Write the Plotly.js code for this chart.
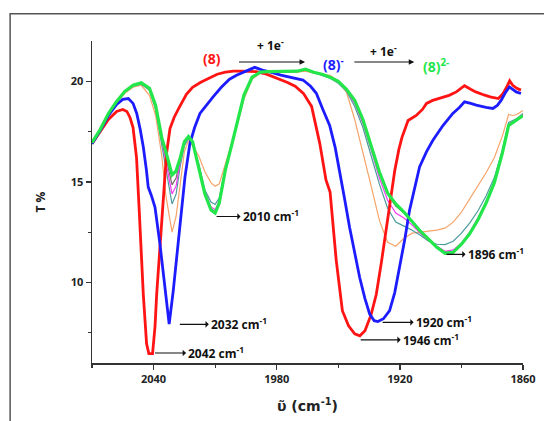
<!DOCTYPE html>
<html><head><meta charset="utf-8">
<script src="https://cdn.plot.ly/plotly-3.0.1.min.js"></script>
<style>html,body{margin:0;padding:0;background:#fff;}#chart{width:544px;height:421px;}</style>
</head><body><div id="chart"></div>
<script>
// wavenumber grid shared by the (8)2- titration family
const wnFamily = [2070, 2066, 2062, 2058, 2054, 2050, 2046, 2042, 2039, 2036, 2034, 2031, 2029, 2027, 2025, 2023, 2021, 2018, 2015, 2012, 2010, 2008, 2005, 2002, 1999, 1996, 1992, 1988, 1984, 1980, 1975, 1970, 1966, 1962, 1958, 1954, 1950, 1946, 1942, 1938, 1934, 1930, 1926, 1922, 1918, 1914, 1910, 1906, 1902, 1898, 1894, 1890, 1886, 1882, 1878, 1874, 1870, 1867, 1865, 1863, 1860];
const tGreen = [16.95, 17.6, 18.4, 19.0, 19.5, 19.8, 19.92, 19.65, 18.8, 17.2, 16.5, 15.35, 15.55, 16.2, 17.0, 17.25, 17.0, 15.75, 14.4, 13.6, 13.45, 13.95, 15.6, 16.8, 18.0, 19.3, 20.2, 20.45, 20.48, 20.48, 20.5, 20.5, 20.6, 20.45, 20.35, 20.2, 20.0, 19.6, 19.05, 18.1, 16.8, 15.5, 14.45, 13.9, 13.5, 13.0, 12.55, 12.15, 11.75, 11.45, 11.5, 11.9, 12.42, 13.1, 13.95, 14.95, 16.45, 17.8, 17.95, 18.05, 18.3];
const tOrange = [16.95, 17.55, 18.3, 18.9, 19.4, 19.7, 19.8, 19.3, 18.3, 16.3, 14.3, 12.5, 13.3, 15.0, 16.5, 17.05, 16.8, 16.3, 15.5, 14.95, 14.78, 14.9, 15.9, 17.0, 17.9, 19.1, 20.1, 20.4, 20.45, 20.45, 20.45, 20.45, 20.5, 20.4, 20.35, 20.3, 20.0, 19.45, 18.1, 16.5, 14.8, 13.1, 12.0, 11.8, 12.2, 12.45, 12.5, 12.55, 12.6, 12.7, 13.0, 13.5, 14.15, 14.8, 15.45, 16.2, 17.3, 18.35, 18.3, 18.35, 18.55];
const tTeal = [16.95, 17.6, 18.35, 18.95, 19.45, 19.75, 19.85, 19.55, 18.6, 16.9, 15.8, 13.9, 14.4, 15.8, 16.8, 17.15, 16.9, 15.9, 14.6, 14.0, 13.88, 14.2, 15.7, 16.9, 17.95, 19.25, 20.15, 20.45, 20.47, 20.47, 20.48, 20.48, 20.57, 20.42, 20.3, 20.15, 19.9, 19.5, 18.75, 17.7, 16.3, 14.9, 13.7, 13.0, 12.8, 12.6, 12.35, 12.05, 11.9, 11.88, 12.05, 12.45, 12.95, 13.55, 14.3, 15.2, 16.6, 17.95, 18.05, 18.15, 18.4];
const tMagenta = [16.95, 17.6, 18.38, 18.98, 19.48, 19.78, 19.9, 19.6, 18.7, 17.0, 16.0, 14.4, 14.8, 16.0, 16.9, 17.2, 16.95, 15.8, 14.5, 13.75, 13.62, 14.05, 15.65, 16.85, 17.98, 19.28, 20.18, 20.45, 20.48, 20.48, 20.5, 20.5, 20.58, 20.44, 20.33, 20.18, 19.95, 19.55, 18.9, 17.9, 16.6, 15.2, 14.1, 13.45, 13.2, 12.85, 12.45, 12.1, 11.8, 11.55, 11.62, 11.95, 12.5, 13.2, 14.0, 15.0, 16.5, 17.85, 18.0, 18.1, 18.35];
const tGray = [16.95, 17.6, 18.4, 19.0, 19.5, 19.8, 19.92, 19.63, 18.75, 17.1, 16.25, 14.85, 15.2, 16.2, 16.95, 17.22, 16.98, 15.78, 14.45, 13.65, 13.52, 13.98, 15.62, 16.82, 18.0, 19.3, 20.2, 20.45, 20.48, 20.48, 20.5, 20.5, 20.6, 20.45, 20.35, 20.2, 19.98, 19.58, 18.98, 18.02, 16.8, 15.45, 14.4, 13.8, 13.45, 12.95, 12.5, 12.1, 11.78, 11.5, 11.55, 11.9, 12.45, 13.15, 13.95, 14.95, 16.45, 17.82, 17.97, 18.07, 18.32];

// (8) neutral
const wnRed = [2070, 2066, 2062, 2058, 2055, 2053, 2051.5, 2050, 2048.3, 2047, 2045, 2043.4, 2042.3, 2040.5, 2039.3, 2038.5, 2036.9, 2035.3, 2033.7, 2032, 2030, 2028, 2024, 2021, 2017, 2013, 2009, 2005, 2001, 1997, 1990, 1985, 1980, 1975, 1971, 1967, 1963, 1961, 1959, 1956, 1954, 1951, 1948, 1945, 1942, 1939.5, 1937, 1934, 1931.5, 1929, 1926.5, 1924.5, 1922.5, 1920.5, 1919, 1916, 1912, 1909, 1907, 1904, 1901, 1896, 1892.5, 1888.5, 1885.5, 1883, 1879, 1876, 1872, 1870, 1868, 1866.5, 1865, 1863, 1861];
const tRed = [16.9, 17.5, 18.1, 18.5, 18.6, 18.5, 18.2, 17.7, 16.2, 13.6, 9.4, 6.95, 6.47, 6.47, 7.8, 9.4, 11.75, 14.1, 16.4, 17.65, 18.2, 18.6, 19.35, 19.7, 19.95, 20.15, 20.35, 20.45, 20.5, 20.5, 20.48, 20.35, 20.15, 19.95, 19.75, 19.4, 18.75, 17.9, 16.9, 15.1, 14.5, 11.1, 8.6, 7.85, 7.45, 7.35, 7.6, 8.4, 9.4, 11.0, 12.75, 14.2, 15.55, 16.6, 17.2, 18.05, 18.3, 18.6, 18.9, 19.05, 19.15, 19.3, 19.47, 19.78, 19.6, 19.47, 19.32, 19.22, 19.14, 19.35, 19.7, 20.02, 19.8, 19.65, 19.56];

// (8)- monoanion
const wnBlue = [2070, 2066, 2062, 2058, 2055, 2052.3, 2050, 2048.2, 2046.5, 2045, 2043.5, 2042.6, 2041, 2039.3, 2036.9, 2034.5, 2032.4, 2030.4, 2028, 2024.7, 2022.3, 2020, 2017.4, 2014, 2011, 2007, 2003, 1999.6, 1995, 1990.7, 1987, 1983.4, 1978, 1972, 1967.2, 1963.5, 1960.7, 1957.5, 1954.2, 1951.5, 1949.3, 1947, 1944.5, 1942, 1939.6, 1937, 1934.7, 1932.5, 1930.7, 1928, 1925, 1922.5, 1920.1, 1917.5, 1915.3, 1912.5, 1910.4, 1907, 1903.9, 1899, 1894.2, 1891, 1888.5, 1885.5, 1882.8, 1878, 1874.7, 1872.5, 1870.6, 1868.5, 1866.6, 1865, 1863.3, 1861];
const tBlue = [16.9, 17.55, 18.3, 18.85, 19.1, 19.14, 18.9, 18.4, 17.6, 16.73, 15.6, 14.74, 14.3, 13.74, 11.92, 9.76, 7.93, 9.6, 11.92, 15.24, 16.9, 17.7, 18.4, 18.85, 19.22, 19.7, 20.1, 20.3, 20.5, 20.69, 20.55, 20.47, 20.3, 20.15, 20.06, 19.75, 19.4, 18.6, 17.8, 16.7, 15.57, 14.2, 12.75, 11.5, 10.26, 9.2, 8.43, 8.1, 8.06, 8.2, 8.6, 9.5, 10.76, 12.2, 13.58, 14.8, 15.74, 16.5, 17.07, 17.8, 18.4, 18.7, 18.98, 18.9, 18.81, 18.7, 18.65, 18.8, 19.06, 19.45, 19.72, 19.6, 19.47, 19.39];

const xTickVals = [2040, 1980, 1920, 1860];
const xTickText = ['2040', '1980', '1920', '1860'];
const xMinorVals = [2070, 2010, 1950, 1890];
const yTickVals = [10, 15, 20];
const yMinorVals = [7.5, 12.5, 17.5];

const peakLabels = ['2042 cm<sup>-1</sup>', '2032 cm<sup>-1</sup>', '2010 cm<sup>-1</sup>', '1946 cm<sup>-1</sup>', '1920 cm<sup>-1</sup>', '1896 cm<sup>-1</sup>'];
const peakLabelY = [6.5, 7.92, 13.28, 7.15, 8.02, 11.4];
const peakArrowFrom = [2039.3, 2027.2, 2009.3, 1939.1, 1928.4, 1897.3];
const peakArrowTo = [2024.2, 2013.1, 1997.6, 1919.6, 1913.3, 1888.0];

const FONT = 'Open Sans, Liberation Sans, sans-serif';

function line(x, y, color, width) {
  return {x: x, y: y, type: 'scatter', mode: 'lines', line: {color: color, width: width}, hoverinfo: 'skip'};
}
const traces = [
  line(wnFamily, tOrange, '#f6a46a', 1.2),
  line(wnFamily, tTeal, '#4c9a9c', 1.2),
  line(wnFamily, tMagenta, '#f23cf2', 1.2),
  line(wnFamily, tGray, '#7a6e6e', 1.2),
  line(wnRed, tRed, '#ff1414', 2.8),
  line(wnBlue, tBlue, '#1c1cff', 2.8),
  line(wnFamily, tGreen, '#22e64a', 3.2)
];

const annotations = [];
for (let i = 0; i < peakLabels.length; i++) {
  // arrow runs from the band minimum towards the label, head at the label side
  annotations.push({x: peakArrowFrom[i], y: peakLabelY[i], ax: peakArrowTo[i], ay: peakLabelY[i], axref: 'x', ayref: 'y',
    xref: 'x', yref: 'y', text: peakLabels[i], showarrow: true, arrowside: 'start', arrowhead: 2, arrowsize: 1,
    arrowwidth: 1.1, arrowcolor: '#111', standoff: 0, startstandoff: 0, xanchor: 'left', yanchor: 'middle',
    font: {family: FONT, size: 12, weight: 'bold', color: '#111'}});
}
// top reaction scheme
annotations.push({x: 2011.3, y: 21.14, xref: 'x', yref: 'y', text: '(8)', showarrow: false, font: {family: FONT, size: 14, weight: 'bold', color: '#ff1414'}});
annotations.push({x: 1990.7, y: 21.8, xref: 'x', yref: 'y', xanchor: 'left', text: '+ 1e<sup>-</sup>', showarrow: false, font: {family: FONT, size: 12, weight: 'bold', color: '#111'}});
annotations.push({x: 1966.2, y: 20.96, ax: 1999.1, ay: 20.96, axref: 'x', ayref: 'y', xref: 'x', yref: 'y', text: '', showarrow: true, arrowhead: 2, arrowsize: 1, arrowwidth: 1.1, arrowcolor: '#111'});
annotations.push({x: 1958.6, y: 20.84, xref: 'x', yref: 'y', xanchor: 'left', text: '(8)<sup>-</sup>', showarrow: false, font: {family: FONT, size: 14, weight: 'bold', color: '#1c1cff'}});
annotations.push({x: 1935.3, y: 21.5, xref: 'x', yref: 'y', xanchor: 'left', text: '+ 1e<sup>-</sup>', showarrow: false, font: {family: FONT, size: 12, weight: 'bold', color: '#111'}});
annotations.push({x: 1913, y: 20.96, ax: 1942.9, ay: 20.96, axref: 'x', ayref: 'y', xref: 'x', yref: 'y', text: '', showarrow: true, arrowhead: 2, arrowsize: 1, arrowwidth: 1.1, arrowcolor: '#111'});
annotations.push({x: 1909.6, y: 20.76, xref: 'x', yref: 'y', xanchor: 'left', text: '(8)<sup>2-</sup>', showarrow: false, font: {family: FONT, size: 14, weight: 'bold', color: '#22e64a'}});

const layout = {
  width: 544, height: 421,
  margin: {l: 92, r: 21, t: 41, b: 58},
  paper_bgcolor: '#fff', plot_bgcolor: '#fff',
  showlegend: false,
  xaxis: {
    range: [2070, 1860], tickmode: 'array', tickvals: xTickVals, ticktext: xTickText,
    ticks: 'outside', ticklen: 5, tickwidth: 1.5, tickcolor: '#333',
    minor: {tickmode: 'array', tickvals: xMinorVals, ticks: 'outside', ticklen: 3, tickwidth: 1.2, tickcolor: '#333', showgrid: false},
    showline: true, linecolor: '#333', linewidth: 1.5, showgrid: false, zeroline: false,
    tickfont: {family: FONT, size: 11, weight: 'bold', color: '#222'},
    title: {text: 'υ̃ (cm<sup>-1</sup>)', font: {family: 'DejaVu Sans, sans-serif', size: 14, weight: 'bold', color: '#222'}, standoff: 16}
  },
  yaxis: {
    range: [6, 22], tickmode: 'array', tickvals: yTickVals,
    ticks: 'outside', ticklen: 5, tickwidth: 1.5, tickcolor: '#333',
    minor: {tickmode: 'array', tickvals: yMinorVals, ticks: 'outside', ticklen: 3, tickwidth: 1.2, tickcolor: '#333', showgrid: false},
    showline: true, linecolor: '#333', linewidth: 1.5, showgrid: false, zeroline: false,
    tickfont: {family: FONT, size: 11, weight: 'bold', color: '#222'},
    title: {text: 'T %', font: {family: FONT, size: 12, weight: 'bold', color: '#222'}, standoff: 22}
  },
  shapes: [{type: 'rect', xref: 'paper', yref: 'paper', x0: -0.19, x1: 1.3, y0: -0.5, y1: 1.085,
    line: {color: '#555', width: 1.5}, fillcolor: 'rgba(0,0,0,0)', layer: 'below'}],
  annotations: annotations
};

Plotly.newPlot('chart', traces, layout, {displayModeBar: false, staticPlot: true});
</script>
</body></html>
